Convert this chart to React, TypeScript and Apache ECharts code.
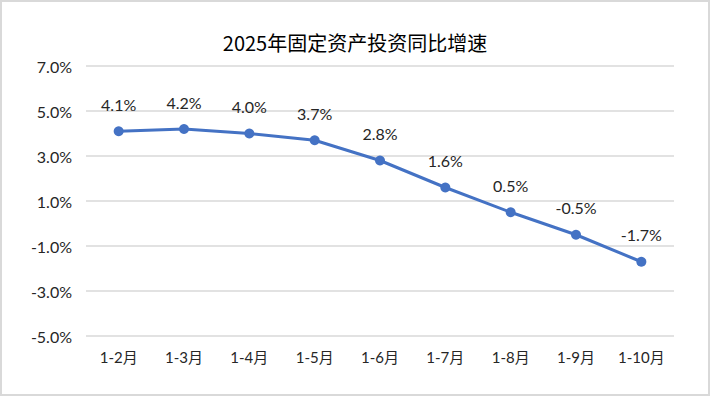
import React, { useEffect, useRef } from "react";
import * as echarts from "echarts";

const categories = ["1-2月", "1-3月", "1-4月", "1-5月", "1-6月", "1-7月", "1-8月", "1-9月", "1-10月"];
const growth = [4.1, 4.2, 4.0, 3.7, 2.8, 1.6, 0.5, -0.5, -1.7];
const titleText = "2025年固定资产投资同比增速";

export default function App() {
  const ref = useRef<HTMLDivElement>(null);
  useEffect(() => {
    document.body.style.margin = "0";
    const chart = echarts.init(ref.current!, null, { renderer: "svg" });
    chart.setOption({
      animation: false,
      backgroundColor: "#fff",
      title: {
        text: titleText,
        left: "center",
        top: 25,
        textStyle: { fontFamily: "Noto Sans CJK SC", fontSize: 20, fontWeight: "normal", color: "#000" },
      },
      grid: { left: 84, right: 34, top: 64, bottom: 58 },
      xAxis: {
        type: "category",
        data: categories,
        boundaryGap: true,
        axisLine: { show: false },
        axisTick: { show: false },
        axisLabel: { fontFamily: "Lato, Noto Sans CJK SC", fontSize: 15, color: "#262626", margin: 13 },
      },
      yAxis: {
        type: "value",
        min: -5,
        max: 7,
        interval: 2,
        axisLine: { show: false },
        axisTick: { show: false },
        splitLine: { lineStyle: { color: "#d9d9d9", width: 1.5 } },
        axisLabel: {
          fontFamily: "Lato",
          fontSize: 16,
          color: "#262626",
          margin: 14,
          formatter: (v: number) => v.toFixed(1) + "%",
        },
      },
      series: [
        {
          type: "line",
          data: growth,
          symbol: "circle",
          symbolSize: 10,
          lineStyle: { color: "#4472C4", width: 3 },
          itemStyle: { color: "#4472C4" },
          label: {
            show: true,
            position: "top",
            distance: 14,
            fontFamily: "Lato",
            fontSize: 16,
            color: "#262626",
            formatter: (p: any) => p.value.toFixed(1) + "%",
          },
        },
      ],
    });
    return () => chart.dispose();
  }, []);
  return (
    <div
      ref={ref}
      style={{ width: 710, height: 396, boxSizing: "border-box", border: "2px solid #d9d9d9" }}
    />
  );
}
